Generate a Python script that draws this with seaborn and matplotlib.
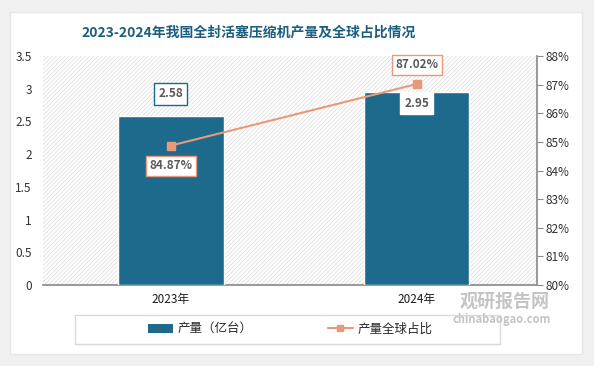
import matplotlib
matplotlib.use('Agg')
import matplotlib.pyplot as plt
import matplotlib.ticker as ticker
from matplotlib.patches import Rectangle, Patch
from matplotlib.lines import Line2D
import numpy as np
import pandas as pd
import seaborn as sns

years = ['2023年', '2024年']
output = [2.58, 2.95]          # 产量（亿台）
share = [84.87, 87.02]         # 产量全球占比 (%)
title = '2023-2024年我国全封活塞压缩机产量及全球占比情况'

bar_color = '#1d6a8d'
line_color = '#e8997a'
text_gray = '#595959'

sns.set_theme(style='white')
plt.rcParams['font.family'] = ['Noto Sans CJK SC', 'DejaVu Sans']
plt.rcParams['hatch.linewidth'] = 0.5

fig = plt.figure(figsize=(5.94, 3.66), dpi=100)
fig.patch.set_facecolor('#f0f0f0')
W, H = 594, 366
card = Rectangle((10 / W, 12 / H), 572 / W, 342 / H, transform=fig.transFigure,
                 facecolor='white', edgecolor='#e6e6e6', linewidth=1, zorder=-10)
fig.patches.append(card)
# legend frame
fig.patches.append(Rectangle((75 / W, (366 - 344) / H), 425 / W, 29 / H,
                             transform=fig.transFigure, facecolor='white',
                             edgecolor='#d9d9d9', linewidth=1, zorder=-5))

ax = fig.add_axes([43 / W, (366 - 285) / H, (537 - 43) / W, (285 - 56) / H])
ax.patch.set_facecolor('white')
ax.add_patch(Rectangle((0, 0), 1, 1, transform=ax.transAxes, facecolor='white',
                       edgecolor='#dadada', linewidth=0, hatch='////////', zorder=0))

df = pd.DataFrame({'year': years, 'output': output, 'share': share})
sns.barplot(data=df, x='year', y='output', color=bar_color, width=0.43, saturation=1,
            edgecolor='white', linewidth=1, ax=ax, zorder=3)
ax.set_ylim(0, 3.5)
ax.set_yticks(np.arange(0, 3.51, 0.5))
ax.set_yticklabels(['0', '0.5', '1', '1.5', '2', '2.5', '3', '3.5'])
ax.set_xlabel('')
ax.set_ylabel('')
for s in ['top', 'left', 'right']:
    ax.spines[s].set_visible(False)
ax.spines['bottom'].set_color('#8c8c8c')
ax.tick_params(axis='y', length=0, labelsize=8.5, colors='#333333', pad=8)
ax.tick_params(axis='x', length=0, labelsize=8.5, colors='#1a1a1a', pad=6)

ax2 = ax.twinx()
x = np.arange(len(years))
ax2.plot(x, share, color=line_color, linewidth=1.5, marker='s', markersize=6, zorder=5)
ax2.set_ylim(80, 88)
ax.set_xlim(-0.52, len(years) - 0.51)
ax2.yaxis.set_major_locator(ticker.MultipleLocator(1))
ax2.yaxis.set_major_formatter(ticker.FuncFormatter(lambda v, p: f'{v:.0f}%'))
for s in ['top', 'left', 'bottom']:
    ax2.spines[s].set_visible(False)
ax2.spines['right'].set_color('#8c8c8c')
ax2.tick_params(axis='y', length=4, width=0.8, color='#8c8c8c', labelsize=8.5,
                labelcolor='#333333', pad=2, direction='out')
ax2.grid(False)
ax.grid(False)

# value labels
bar_offsets = [0.34, -0.18]
for i, v in enumerate(output):
    y = v + bar_offsets[i]
    ec = bar_color if bar_offsets[i] > 0 else 'white'
    ax.text(i, y, f'{v:.2f}', ha='center', va='center', fontsize=8.5, fontweight='bold',
            color=text_gray, zorder=6,
            bbox=dict(boxstyle='square,pad=0.35', facecolor='white', edgecolor=ec, linewidth=1))
share_offsets = [-0.7, 0.67]
for i, v in enumerate(share):
    ax2.text(i, v + share_offsets[i], f'{v:.2f}%', ha='center', va='center', fontsize=8.5,
             fontweight='bold', color=text_gray, zorder=6,
             bbox=dict(boxstyle='square,pad=0.3', facecolor='white', edgecolor=line_color,
                       linewidth=1))

fig.text(249 / W, (366 - 33) / H, title, ha='center', va='center', fontsize=10,
         fontweight='bold', color='#1c5e7e')

handles = [Patch(facecolor=bar_color, edgecolor='none'),
           Line2D([0], [0], color=line_color, linewidth=1.5, marker='s', markersize=5)]
leg = fig.legend(handles, ['产量（亿台）', '产量全球占比'], ncol=2,
                 loc='center', bbox_to_anchor=(290 / W, (366 - 329) / H),
                 fontsize=9, frameon=False, handlelength=2.0, handletextpad=0.4,
                 columnspacing=6)

# watermark
fig.text(505 / W, (366 - 301) / H, '观研报告网', ha='center', va='center', fontsize=13,
         fontweight='bold', color='#c4c4c4', zorder=10)
fig.text(502 / W, (366 - 320) / H, 'chinabaogao.com', ha='center', va='center', fontsize=8,
         fontweight='bold', color='#c4c4c4', zorder=10)

fig.savefig('out.png', dpi=100, facecolor=fig.get_facecolor())
